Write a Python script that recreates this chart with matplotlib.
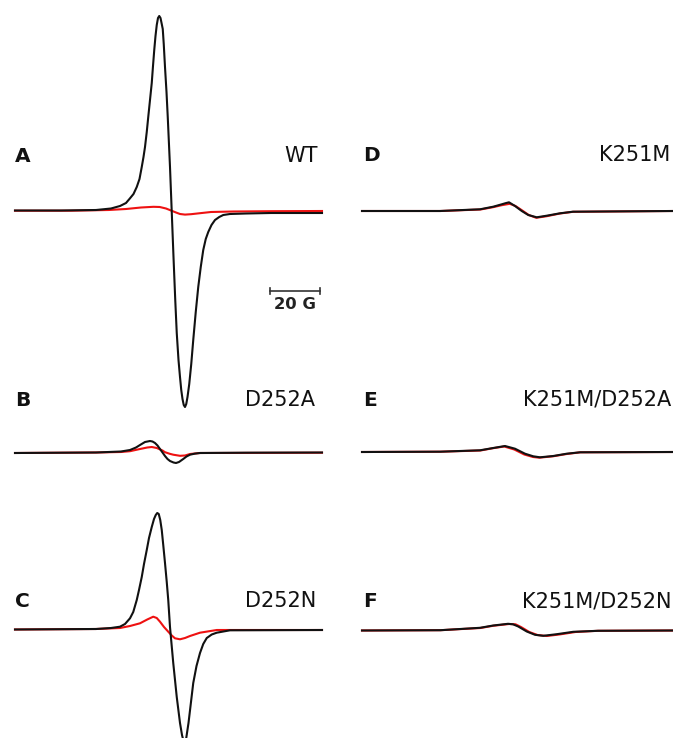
import matplotlib
matplotlib.use("Agg")
import matplotlib.pyplot as plt

# ---------------- data (field offset in G, signal in a.u.) ----------------
# Panel A: WT
A_black_B = [-62.4, -44, -30, -24, -20.4, -18, -16.4, -15, -13.7, -12.6, -11.7, -11, -10.4, -9.7, -9.1,
             -8.4, -7.7, -7.2, -6.7, -6.2, -5.7, -5.2, -4.7, -4.2, -3.7, -3.3, -2.9, -2.4, -1.8, -1.3,
             -0.4, 0.3, 1.0, 1.7, 2.3, 3.0, 3.6, 4.1, 4.6, 5.1, 5.6, 6.1, 6.6, 7.3, 8.1, 8.9, 9.9,
             10.9, 11.9, 12.9, 13.9, 14.9, 16.2, 17.6, 19.3, 20.9, 23.6, 30, 40, 60.4]
A_black_I = [1.5, 1.5, 2, 3.5, 6, 9, 13.7, 18, 25, 33, 45, 55, 65, 80, 95,
             112, 129, 146, 162, 176, 187, 194, 196, 194, 188, 183, 168, 145, 120, 95,
             45, 0, -45, -88, -121, -148, -165, -178, -187, -193, -195, -192, -185, -172, -152, -128, -100,
             -75, -55, -38, -27, -20, -13, -8, -5, -3, -2, -1.5, -1, -1]
A_red_B = [-62.4, -40, -25, -18, -12, -7, -4.5, -2, 0, 2, 3.6, 5.6, 8, 11.6, 16, 25, 40, 60.4]
A_red_I = [1.3, 1.3, 2, 3, 4.5, 5.2, 5, 3.5, 1.5, -0.5, -2, -2.6, -2.2, -1.2, 0, 0.5, 0.8, 1]

# Panel B: D252A
B_black_B = [-62.4, -30, -20, -16.4, -14, -12.4, -10.4, -8.4, -7.4, -6.4, -5.4, -4.4, -3.4, -2.4, -1.4,
             -0.4, 1, 2, 3.2, 4.9, 6.2, 7.6, 9.6, 11.6, 30, 60.4]
B_black_I = [0, 0.5, 1.5, 3, 5.5, 8, 11, 12, 11.5, 10, 7.5, 4, 0.5, -3, -6,
             -8, -9.5, -10, -9, -6, -3.5, -1.7, -0.6, 0, 0.3, 0.5]
B_red_B = [-62.4, -30, -20, -16.4, -12.4, -9.5, -7.7, -5.7, -3.4, -2.4, -0.5, 0.9, 3.6, 5.6, 7.6, 11.6, 60.4]
B_red_I = [0, 0.5, 1, 1.8, 4, 5.5, 6, 5, 2.5, 0.8, -0.8, -1.7, -2.8, -2.5, -1, 0, 0.3]

# Panel C: D252N
C_black_B = [-62.4, -30, -24, -20.4, -18.4, -16.4, -15.1, -13.7, -12.8, -11.7, -10.8, -9.7, -8.8, -7.7,
             -6.8, -6.1, -5.5, -4.9, -4.3, -3.7, -3.1, -2.4, -1.7, -1.1, -0.4, 0.9, 2.3, 3.6, 4.4, 5.0,
             5.5, 6.1, 7.0, 8.9, 10.2, 11.6, 12.9, 14.3, 16.3, 18.3, 23.6, 60.4]
C_black_I = [0.5, 1, 2, 3.3, 6, 11.7, 18, 30, 40, 53, 66, 80, 92, 103,
             111, 115, 117, 116, 110, 100, 85, 67, 48, 30, 3, -33, -67, -93, -105, -111,
             -113, -108, -93, -53, -36, -23, -14, -8, -4.5, -2.7, -0.3, 0]
C_red_B = [-62.4, -30, -20.4, -16.4, -12.4, -9.5, -7.1, -5.7, -4.4, -2.8, -1.1, 0.3, 1.6, 3.6, 5.6,
           7.6, 11.6, 18.3, 60.4]
C_red_I = [0.5, 1, 2, 4, 6.7, 10.5, 13.3, 12, 8.3, 3, -1.7, -5.5, -8.3, -9.3, -8,
           -6, -2.7, 0, 0]

# Panel D: K251M
D_black_B = [-64.4, -33.2, -17.2, -11.9, -8.5, -7, -5.6, -4.5, -3.2, -0.5, 2.1, 5.5, 9.5, 14.8, 20, 60]
D_black_I = [0, 0, 1.7, 4.3, 6.7, 7.8, 8.7, 7, 5, 0, -4, -6.3, -4.7, -2.3, -0.7, 0]
D_red_B = [-64.4, -33, -17, -12, -8.5, -5.3, -3, -0.3, 2.3, 5.3, 9.5, 14.8, 20, 60]
D_red_I = [0, 0, 1.5, 3.8, 5.8, 7.2, 5, 0.5, -4, -6.8, -5.2, -2.5, -0.8, 0]

# Panel E: K251M/D252A
E_black_B = [-64.4, -33.2, -17.2, -11.9, -7.2, -3.2, 0.8, 4.1, 6.8, 12.1, 17.5, 22.8, 60]
E_black_I = [0, 0.3, 1.7, 4, 6, 3.3, -1.7, -4.3, -5.3, -4, -1.7, -0.3, 0]
E_red_B = [-64.4, -33, -17, -12, -7.5, -3.5, 0.5, 4, 6.5, 12, 17.5, 23, 60]
E_red_I = [0, 0.3, 1.5, 3.8, 5.5, 2.5, -2.5, -5, -5.7, -4.3, -2, -0.3, 0]

# Panel F: K251M/D252N
F_black_B = [-64.4, -33, -17.2, -11.9, -6, -4, -1.9, 1.5, 4.8, 8.1, 13.5, 20.1, 30, 60]
F_black_I = [0, 0.3, 2.7, 5, 6.7, 6.2, 4, -1, -4.3, -5.3, -3.7, -1.3, -0.3, 0]
F_red_B = [-64.4, -33, -17, -12, -5.5, -3, -0.8, 2.5, 5.8, 9.5, 14.5, 21, 30, 60]
F_red_I = [0, 0.3, 2.5, 4.7, 6.5, 6.2, 3.5, -1.5, -4.5, -5.5, -4, -1.5, -0.3, 0]

panel_letters = ["A", "B", "C", "D", "E", "F"]
panel_names = ["WT", "D252A", "D252N", "K251M", "K251M/D252A", "K251M/D252N"]
scale_label = "20 G"
scale_length_G = 20

# ---------------- layout (pixels) ----------------
W, H = 673, 738
fig = plt.figure(figsize=(W / 100, H / 100), dpi=100)

PX_PER_G = 2.5
PX_PER_AU = 1.0
HALF_H = 220  # half axes height in px

columns = {
    "left": dict(center=171, xl=10, xr=330),
    "right": dict(center=523, xl=358, xr=673),
}


def make_axes(col, baseline):
    c = columns[col]
    left = c["xl"] / W
    width = (c["xr"] - c["xl"]) / W
    bottom = 1 - (baseline + HALF_H) / H
    height = 2 * HALF_H / H
    ax = fig.add_axes([left, bottom, width, height])
    ax.set_xlim((c["xl"] - c["center"]) / PX_PER_G, (c["xr"] - c["center"]) / PX_PER_G)
    ax.set_ylim(-HALF_H / PX_PER_AU, HALF_H / PX_PER_AU)
    ax.axis("off")
    ax.patch.set_alpha(0)
    return ax


panels = [
    ("left", 212, A_black_B, A_black_I, A_red_B, A_red_I),
    ("left", 453, B_black_B, B_black_I, B_red_B, B_red_I),
    ("left", 630, C_black_B, C_black_I, C_red_B, C_red_I),
    ("right", 211, D_black_B, D_black_I, D_red_B, D_red_I),
    ("right", 452, E_black_B, E_black_I, E_red_B, E_red_I),
    ("right", 630.5, F_black_B, F_black_I, F_red_B, F_red_I),
]

axes = []
for col, base, bb, bi, rb, ri in panels:
    ax = make_axes(col, base)
    ax.plot(rb, ri, color="#ee1111", lw=1.5, solid_joinstyle="round", clip_on=False)
    ax.plot(bb, bi, color="#111111", lw=1.5, solid_joinstyle="round", clip_on=False)
    axes.append(ax)

# scale bar in panel A (data units: gauss)
axA = axes[0]
sb_start = 39.6
sb_y = 212 - 290.7
axA.plot([sb_start, sb_start + scale_length_G], [sb_y, sb_y], color="#333333", lw=1.2)
for xe in (sb_start, sb_start + scale_length_G):
    axA.plot([xe, xe], [sb_y - 3, sb_y + 3], color="#333333", lw=1.2)
axA.text(sb_start + scale_length_G / 2, sb_y - 18, scale_label, ha="center", va="baseline",
         fontsize=11.8, fontweight="bold", color="#222222", family="DejaVu Sans")

# labels (pixel positions -> figure fraction)
letter_pos = [(15, 155), (15, 398.3), (15.5, 600), (363, 153.3), (363, 398.3), (363, 600)]
name_pos = [(318, 155), (315, 398.3), (316.5, 600), (670, 153.3), (671.5, 398.3), (671.5, 600)]
CAP_HALF = 7.3
for (lx, ly), (nx, ny), letter, name in zip(letter_pos, name_pos, panel_letters, panel_names):
    fig.text(lx / W, 1 - (ly + CAP_HALF) / H, letter, ha="left", va="baseline",
             fontsize=14.5, fontweight="bold", color="#111111", family="DejaVu Sans")
    fig.text(nx / W, 1 - (ny + CAP_HALF) / H, name, ha="right", va="baseline",
             fontsize=15, color="#111111", family="DejaVu Sans")

fig.savefig("out.png", dpi=100, facecolor="white")
